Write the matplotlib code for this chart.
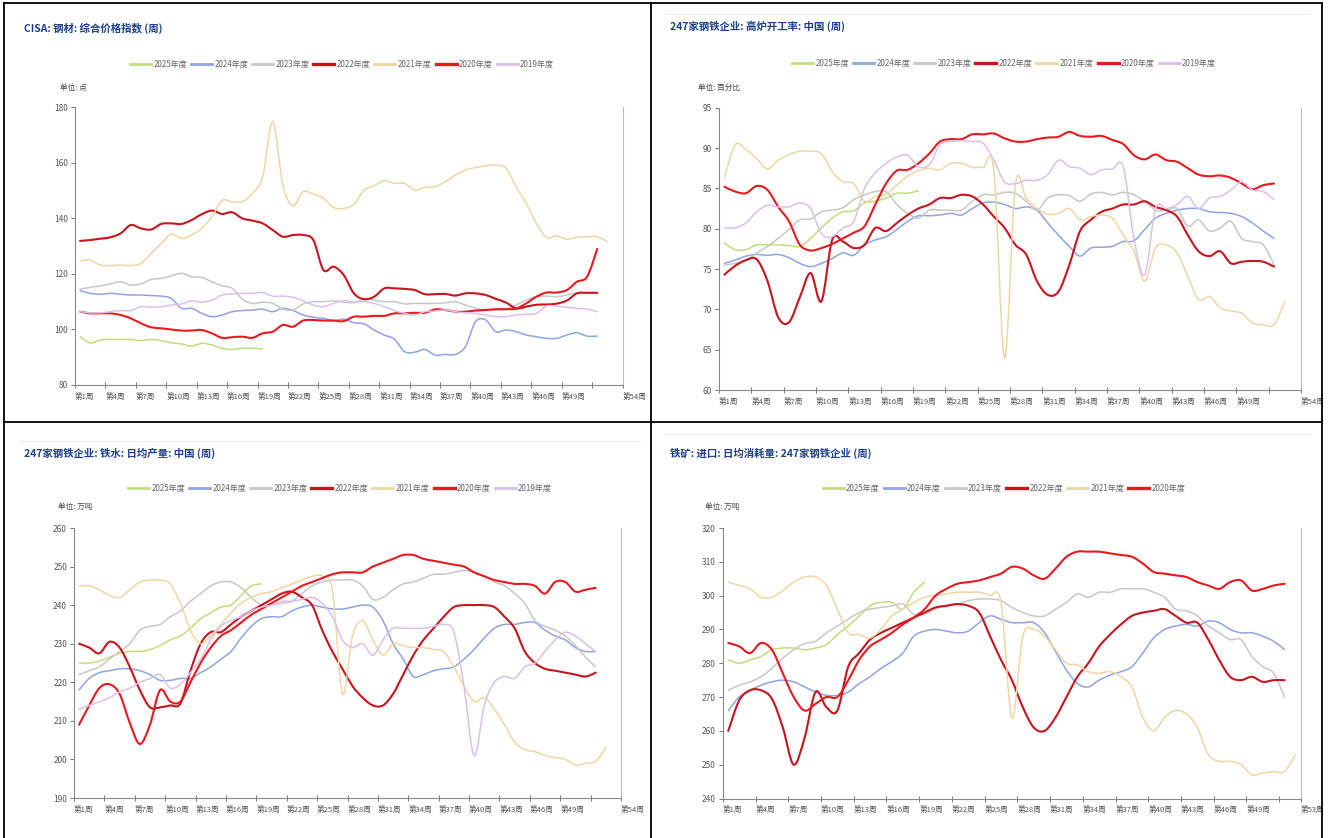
import matplotlib

matplotlib.use("Agg")
import matplotlib.pyplot as plt
import numpy as np
from matplotlib.lines import Line2D
from matplotlib.patches import PathPatch
from matplotlib.path import Path

plt.rcParams["font.family"] = ["Noto Sans CJK SC", "DejaVu Sans"]

W, H = 1330, 838

YEARS = ["2025年度", "2024年度", "2023年度", "2022年度", "2021年度", "2020年度", "2019年度"]
COLORS = {
    "2025年度": "#c0df7c",
    "2024年度": "#8fa5e3",
    "2023年度": "#c8c8c8",
    "2022年度": "#c8141e",
    "2021年度": "#f0d6a4",
    "2020年度": "#e8191f",
    "2019年度": "#dcc0ec",
}
THICK = {"2022年度", "2020年度"}

# --- CISA steel price index (points), weekly ---
cisa_2025 = [97.4, 95.2, 96.2, 96.4, 96.4, 96.4, 96.0, 96.4, 96.0, 95.2, 94.8, 94.0, 95.0, 94.4, 93.2,
             92.8, 93.2, 93.2, 93.0]
cisa_2024 = [114, 113, 112.7, 113, 112.7, 112.4, 112.4, 112.2, 112, 111.2, 107.6, 107.6, 105.8, 104.6,
             105.2, 106.4, 106.8, 107, 107.3, 106.4, 107.6, 106.8, 105.2, 104.4, 104, 103.2, 103.7, 102.4,
             102, 99.8, 98, 96.5, 92, 91.8, 92.8, 90.8, 91, 91, 93.8, 102.8, 103.4, 99.2, 99.8, 99.2, 98,
             97.4, 96.8, 96.8, 98, 98.8, 97.6, 97.6]
cisa_2023 = [114.5, 115.2, 115.7, 116.4, 117.2, 116, 116.4, 118, 118.4, 119.3, 120.2, 119, 118.7, 117.2,
             115.7, 114.8, 110.9, 109.4, 109.8, 109.4, 107.3, 107, 109.2, 110, 110, 110.3, 109.8, 109.7,
             110.9, 110.6, 110, 110, 109.2, 109.4, 109.4, 109.4, 109.6, 110, 108.8, 107.6, 107, 107,
             107.2, 108.8, 110.6, 111.8, 112, 111.8, 112.4, 113.2, 113.2, 113]
cisa_2022 = [131.9, 132.2, 132.7, 133.2, 134.6, 137.6, 136.4, 136, 138, 138.2, 138, 139.4, 141.5, 142.8,
             141.6, 142.2, 140, 139.2, 138.2, 135.8, 133.4, 134, 134, 132.2, 121.4, 122.6, 119.6, 113,
             110.9, 111.8, 114.8, 114.8, 114.6, 114.2, 112.7, 112.7, 112.8, 112.2, 113, 113, 112.4, 111,
             109.7, 107.6, 108.2, 108.9, 109, 109.3, 110.4, 113, 113.2, 113.2]
cisa_2021 = [124.7, 125, 123.2, 123, 123.2, 123, 123.8, 127.4, 131, 134.3, 132.8, 134, 136.4, 140.6,
             146.4, 146, 146, 149, 155, 174.8, 152, 144.5, 149.6, 148.7, 147.2, 143.9, 143.6, 145, 150.2,
             151.7, 153.6, 152.6, 152.6, 150.2, 151.2, 151.4, 153.2, 155.6, 157.4, 158.3, 158.9, 159.2,
             158, 151.4, 145.4, 138.2, 133.1, 133.7, 132.5, 133.2, 133.4, 133.4, 131.6]
cisa_2020 = [106.4, 105.8, 105.8, 105.8, 105.2, 104, 102.2, 100.8, 100.4, 100, 99.6, 99.6, 99.8, 98.6,
             97, 97.2, 97.4, 97, 98.6, 99.2, 101.6, 101, 103.2, 103.4, 103.2, 103.2, 103, 104.6, 104.6,
             104.9, 104.9, 105.8, 105.8, 106, 106, 107.2, 107, 106.4, 106.4, 106.8, 107, 107.3, 107.3,
             107.5, 109.4, 111.8, 113.3, 113.3, 114.2, 117.2, 119, 129]
cisa_2019 = [106.4, 106, 106, 106.4, 106.8, 106.8, 108.2, 108, 108.2, 108.8, 109.2, 110.3, 109.8, 110.6,
             112.4, 112.8, 113, 113, 113.3, 112, 112, 111.6, 110.3, 108.8, 108.2, 109.4, 110.4, 109.8,
             110, 109.4, 108.2, 106.8, 105.8, 105.2, 106.4, 106.6, 107, 106.4, 106, 105.8, 105.2, 104.6,
             104.6, 105.2, 105.4, 105.8, 108.4, 108.4, 108, 107.6, 107.3, 106.4]

# --- blast furnace utilisation (%), weekly ---
bf_2025 = [78.2, 77.4, 77.4, 78, 78, 78, 77.9, 77.8, 78.8, 80.1, 81.3, 82.1, 82.2, 83.2, 83.4, 83.8,
           84.4, 84.4, 84.7]
bf_2024 = [75.7, 76.1, 76.6, 76.8, 76.7, 76.8, 76.4, 75.7, 75.3, 75.7, 76.3, 77, 76.7, 78, 78.6, 79,
           79.9, 80.9, 81.6, 81.6, 81.7, 81.9, 81.7, 82.5, 83.2, 83.3, 83, 82.5, 82.7, 82.3, 80.7, 79.2,
           77.8, 76.6, 77.6, 77.7, 77.8, 78.4, 78.5, 79.9, 81.3, 81.9, 82.3, 82.5, 82.5, 82.1, 82, 81.9,
           81.5, 80.7, 79.7, 78.8]
bf_2023 = [75.5, 75.7, 76.1, 77, 77.8, 78.8, 79.9, 81.1, 81.2, 82.1, 82.3, 82.6, 83.6, 84.2, 84.6, 84.6,
           83, 81.9, 81.3, 82.3, 82.3, 82.3, 82.3, 83.4, 84.2, 84.2, 84.5, 84.4, 83.4, 82.3, 83.8, 84.2,
           84.1, 83.4, 84.3, 84.5, 84.2, 84.5, 84.2, 83.4, 82.3, 82.3, 82.5, 80.3, 81.1, 79.7, 80.1,
           80.9, 78.8, 78.4, 78, 75.5]
bf_2022 = [74.3, 75.4, 76.1, 76.2, 73.5, 69, 68.4, 71.5, 74.5, 71, 78.6, 78.4, 77.6, 78, 80.1, 79.7,
           80.7, 81.7, 82.5, 83, 83.8, 83.8, 84.2, 84, 83, 81.5, 80.1, 78, 76.8, 73.5, 71.8, 72.2, 75.5,
           79.7, 81.1, 82.1, 82.5, 83, 83, 83.4, 82.7, 82.3, 81.5, 79.2, 77.2, 76.6, 77.2, 75.7, 75.9,
           76, 75.9, 75.3]
bf_2021 = [86.3, 90.4, 89.8, 88.7, 87.4, 88.5, 89.2, 89.6, 89.6, 89.3, 87.1, 85.8, 85.6, 83.4, 84, 84.3,
           85.4, 86.5, 87.2, 87.5, 87.3, 88.1, 88.1, 87.6, 87.6, 87.2, 64, 85.4, 83.8, 82.5, 81.8, 81.9,
           82.5, 81.1, 81.5, 81.7, 81.3, 79.2, 77.2, 73.5, 77.6, 78, 77, 74.1, 71.2, 71.6, 70.2, 69.8,
           69.5, 68.3, 68.1, 68.1, 71]
bf_2020 = [85.2, 84.6, 84.4, 85.3, 84.8, 82.7, 80.9, 78, 77.3, 77.6, 78.1, 78.8, 79.5, 80.3, 83, 85.6,
           87.2, 87.3, 88.1, 89.3, 90.8, 91.1, 91.1, 91.7, 91.7, 91.8, 91.2, 90.8, 90.8, 91.1, 91.3, 91.4,
           92, 91.5, 91.4, 91.5, 91, 90.5, 89.1, 88.6, 89.2, 88.5, 88.3, 87.5, 86.7, 86.5, 86.6, 86.3,
           85.6, 84.9, 85.4, 85.6]
bf_2019 = [80.1, 80.1, 80.7, 82.1, 82.9, 82.7, 82.7, 83.2, 82.5, 79.4, 79, 80.1, 80.9, 85, 86.9, 88.1,
           88.9, 89.1, 87.7, 87.9, 90.4, 90.8, 90.9, 90.8, 90.6, 88.5, 85.8, 85.6, 86, 86, 86.7, 88.5,
           87.7, 87.5, 86.7, 87.3, 87.4, 87.7, 78.8, 74.3, 82.5, 82.5, 83, 84, 82.5, 83.8, 84, 84.8,
           85.8, 84.8, 84.6, 83.6]

# --- hot metal daily output (10k t), weekly ---
hm_2025 = [225, 225, 225.5, 226.5, 227.5, 228, 228, 228.5, 229.5, 231, 232, 234, 236.5, 238, 239.5, 240,
           242.5, 245, 245.5]
hm_2024 = [218, 221, 222.5, 223, 223.5, 223.5, 223, 222, 220.5, 220.5, 221, 221, 222.5, 224, 226, 228,
           231.5, 234.5, 236.5, 237, 237, 238.5, 239.5, 240, 239.5, 239, 239, 239.5, 240, 239.5, 236,
           230, 226, 221.5, 222, 223, 223.5, 224, 226, 228.5, 231.5, 234, 235, 235, 235.5, 235.5,
           233.5, 232, 231, 229, 228, 228]
hm_2023 = [222, 223, 224, 226, 228, 230, 233.5, 234.5, 235, 237, 238.5, 241, 243, 245, 246, 246, 244.5,
           242, 240, 240, 240.5, 241, 243, 245, 246, 246.5, 246.5, 246.5, 245, 241.5, 242, 244, 245.5,
           246, 247, 248, 248, 248.5, 249, 248.5, 247.5, 246, 245, 243, 240.5, 236, 234.5, 233.5, 232,
           229.5, 226.5, 224]
hm_2022 = [230, 229, 227.5, 230.5, 229, 224, 218, 213.5, 213.5, 214, 214.5, 223, 230, 233, 233, 235, 237,
           238.5, 240, 241.5, 243, 243.5, 242, 240, 233.5, 228, 223.5, 219, 216, 214, 214, 217, 222,
           227, 231, 234, 237, 239.5, 240, 240, 240, 239.5, 237, 234, 228, 225, 223.5, 223, 222.5, 222,
           221.5, 222.5]
hm_2021 = [245, 245, 244, 242.5, 242, 244, 246, 246.5, 246.5, 245.5, 240.5, 233.5, 230, 232, 235, 238,
           240.5, 242, 243, 243.5, 244.5, 245.5, 246.5, 247.5, 247.5, 244, 217, 232, 236, 231, 227, 230,
           229.5, 229, 229, 228.5, 228, 224, 219, 215, 216, 213, 209, 204.5, 202.5, 202, 201, 200.5,
           200, 198.5, 199, 199.5, 203]
hm_2020 = [209, 214, 218.5, 219.5, 217, 209.5, 204, 209, 218, 215, 215, 220, 225, 229, 232, 233.5, 235.5,
           237.5, 239, 240.5, 242, 243.5, 245, 246, 247, 248, 248.5, 248.5, 248.5, 250, 251, 252, 253,
           253, 252, 251.5, 251, 250.5, 250, 248.5, 247.5, 246.5, 246, 245.5, 245.5, 245, 243, 246, 246,
           243.5, 244, 244.5]
hm_2019 = [213, 214, 215, 216, 217.5, 218.5, 220, 221, 222, 218.5, 219.5, 222.5, 226, 231, 234.5, 236,
           237, 238.5, 239.5, 240, 241, 241, 241.5, 242, 240.5, 237, 231, 229, 230, 227, 231, 234, 234,
           234, 234, 234.5, 235, 233, 219, 201, 214, 220, 221.5, 221, 224, 225, 228, 231, 233, 232, 230,
           228]

# --- imported ore daily consumption (10k t), weekly ---
ore_2025 = [281, 280, 281, 282, 284, 284.5, 284.5, 284, 284.5, 285.5, 288.5, 291, 294, 297, 298, 298,
            296, 301, 304]
ore_2024 = [266, 270, 272, 273.5, 274.5, 275, 274.5, 273, 271.5, 270.5, 270.5, 271.5, 274, 276, 278.5,
            280.5, 283, 288, 289.5, 290, 289.5, 289, 289.5, 292, 294, 293, 292, 292, 292, 289, 283.5,
            278, 274, 273, 275, 276.5, 277.5, 279, 283, 287.5, 290, 291, 291.5, 291, 292.5, 292, 290,
            289, 289, 288, 286.5, 284]
ore_2023 = [272, 273.5, 274.5, 276, 278.5, 281.5, 284, 285.8, 286.5, 289, 291, 293, 295, 296, 296.5, 297,
            297.5, 294.5, 294.5, 296, 297, 297.5, 298.5, 299, 299, 298.5, 296.5, 295, 294, 294, 296, 298,
            300.5, 299.5, 301, 301, 302, 302, 302, 301, 299.5, 296, 295.5, 294, 291, 289, 287, 287, 282,
            279, 277, 270]
ore_2022 = [260, 269, 272, 272, 269.5, 261, 250, 258, 271.5, 267, 266, 279, 283, 287, 289, 290.5, 292,
            293.5, 295, 296.5, 297, 297.5, 297, 295, 288, 281, 275, 267, 261, 260, 264, 270, 276, 280,
            285, 288.5, 291.5, 294, 295, 295.5, 296, 294, 292, 292, 287, 281, 276, 275, 276, 274.5, 275,
            275]
ore_2021 = [304, 303, 302, 299.5, 299.5, 301.5, 304, 305.5, 305.5, 303, 296, 289, 288.5, 287.5, 290,
            294, 296, 298, 299.5, 300, 300.5, 301, 301, 301, 300, 298, 264, 288, 290, 288, 284, 280,
            279.5, 277.5, 277, 277.5, 276, 273, 264, 260, 264, 266, 265, 261, 253, 251, 251, 250, 247,
            247.5, 248, 248, 253]
ore_2020 = [286, 285, 283, 286, 284, 277, 270, 266, 268, 270, 270, 275, 281, 285, 287, 289, 291.5, 293.5,
            296, 300, 302, 303.5, 304, 304.5, 305.5, 306.5, 308.5, 308, 306, 305, 308, 311.5, 313, 313,
            313, 312.5, 312, 311.5, 309.5, 307, 306.5, 306, 305.5, 304, 303, 302, 304, 304.5, 301.5, 302,
            303, 303.5]


def fx(x):
    return x / W


def fy(y):
    return 1 - y / H


def smooth_path(xs, ys):
    # cubic bezier through the points (like a smoothed line chart)
    pts = np.column_stack([xs, ys]).astype(float)
    n = len(pts)
    verts, codes = [pts[0]], [Path.MOVETO]
    for i in range(n - 1):
        p0, p1 = pts[max(i - 1, 0)], pts[i]
        p2, p3 = pts[i + 1], pts[min(i + 2, n - 1)]
        verts += [p1 + (p2 - p0) / 6, p2 - (p3 - p1) / 6, p2]
        codes += [Path.CURVE4] * 3
    return Path(verts, codes)


def draw_panel(fig, rect, title, title_xy, unit, unit_xy, legend_xy, series, ylim, ystep, ncat):
    ax = fig.add_axes([fx(rect[0]), fy(rect[3]), fx(rect[2] - rect[0]), (rect[3] - rect[1]) / H])
    handles = []
    for label, values in series:
        color = COLORS[label]
        lw = 1.5 if label in THICK else 1.1
        weeks = np.arange(1, len(values) + 1)
        ax.add_patch(PathPatch(smooth_path(weeks, values), facecolor="none", edgecolor=color,
                               lw=lw, capstyle="round", joinstyle="round"))
        handles.append(Line2D([], [], color=color, lw=2.4 if label in THICK else 2.0))
    ax.set_xlim(0.5, ncat + 0.5)
    ax.set_ylim(*ylim)
    ax.set_yticks(np.arange(ylim[0], ylim[1] + 0.1, ystep))
    ticks = [0.5 + j for j in range(0, 52, 3)] + [ncat + 0.5]
    labels = ["第%d周" % (j + 1) for j in range(0, 49, 3)] + ["", "第%d周" % ncat]
    ax.set_xticks(ticks)
    ax.set_xticklabels(labels, ha="left")
    ax.tick_params(axis="x", direction="inout", length=5, width=0.7, colors="#777",
                   labelsize=5.5, labelcolor="#555", pad=3)
    ax.tick_params(axis="y", direction="out", length=3, width=0.7, colors="#777",
                   labelsize=6, labelcolor="#555", pad=2)
    for side in ("left", "bottom"):
        ax.spines[side].set_color("#888")
        ax.spines[side].set_linewidth(0.8)
    ax.spines["right"].set_color("#bbb")
    ax.spines["right"].set_linewidth(0.8)
    ax.spines["top"].set_visible(False)
    ax.patch.set_alpha(0)

    fig.text(fx(title_xy[0]), fy(title_xy[1]), title, fontsize=7.5, fontweight="bold",
             color="#1d3f8c", ha="left", va="center")
    fig.text(fx(unit_xy[0]), fy(unit_xy[1]), unit, fontsize=5.5, color="#444",
             ha="left", va="center")
    fig.legend(handles, [s[0] for s in series], loc="center",
               bbox_to_anchor=(fx(legend_xy[0]), fy(legend_xy[1])), ncol=len(series),
               frameon=False, fontsize=5.8, labelcolor="#666", handlelength=2.6,
               handletextpad=0.3, columnspacing=0.5, borderpad=0)
    return ax


fig = plt.figure(figsize=(W / 100, H / 100), dpi=100)
fig.patch.set_facecolor("white")

draw_panel(fig, (75, 107.3, 622.6, 385), "CISA: 钢材: 综合价格指数 (周)", (24, 28),
           "单位: 点", (60, 88), (342, 64),
           list(zip(YEARS, [cisa_2025, cisa_2024, cisa_2023, cisa_2022, cisa_2021, cisa_2020, cisa_2019])),
           (80, 180), 20, 54)
draw_panel(fig, (719, 107.7, 1301, 390), "247家钢铁企业: 高炉开工率: 中国 (周)", (670, 26),
           "单位: 百分比", (698, 88), (1004, 63),
           list(zip(YEARS, [bf_2025, bf_2024, bf_2023, bf_2022, bf_2021, bf_2020, bf_2019])),
           (60, 95), 5, 54)
draw_panel(fig, (74, 528, 621, 798), "247家钢铁企业: 铁水: 日均产量: 中国 (周)", (24, 453),
           "单位: 万吨", (58, 507), (340, 488),
           list(zip(YEARS, [hm_2025, hm_2024, hm_2023, hm_2022, hm_2021, hm_2020, hm_2019])),
           (190, 260), 10, 54)
draw_panel(fig, (722.8, 528, 1301, 798.5), "铁矿: 进口: 日均消耗量: 247家钢铁企业 (周)", (670, 453),
           "单位: 万吨", (705, 507), (1004, 488),
           list(zip(YEARS[:6], [ore_2025, ore_2024, ore_2023, ore_2022, ore_2021, ore_2020])),
           (240, 320), 10, 53)

# panel frames and faint title rules
frame = dict(color="black", lw=1.3, transform=fig.transFigure)
fig.add_artist(Line2D([fx(3.5), fx(3.5)], [0, fy(3)], **frame))
fig.add_artist(Line2D([fx(3.5), fx(1322)], [fy(3), fy(3)], **frame))
fig.add_artist(Line2D([fx(1322), fx(1322)], [0, fy(3)], **frame))
fig.add_artist(Line2D([fx(650.5), fx(650.5)], [0, fy(3)], **frame))
fig.add_artist(Line2D([fx(3.5), fx(1322)], [fy(422.5), fy(422.5)], **frame))
rule = dict(color="#eeeeee", lw=0.8, transform=fig.transFigure)
fig.add_artist(Line2D([fx(665), fx(1310)], [fy(14), fy(14)], **rule))
fig.add_artist(Line2D([fx(20), fx(640)], [fy(441), fy(441)], **rule))
fig.add_artist(Line2D([fx(665), fx(1310)], [fy(434), fy(434)], **rule))

fig.savefig("out.png", dpi=100, facecolor="white")
